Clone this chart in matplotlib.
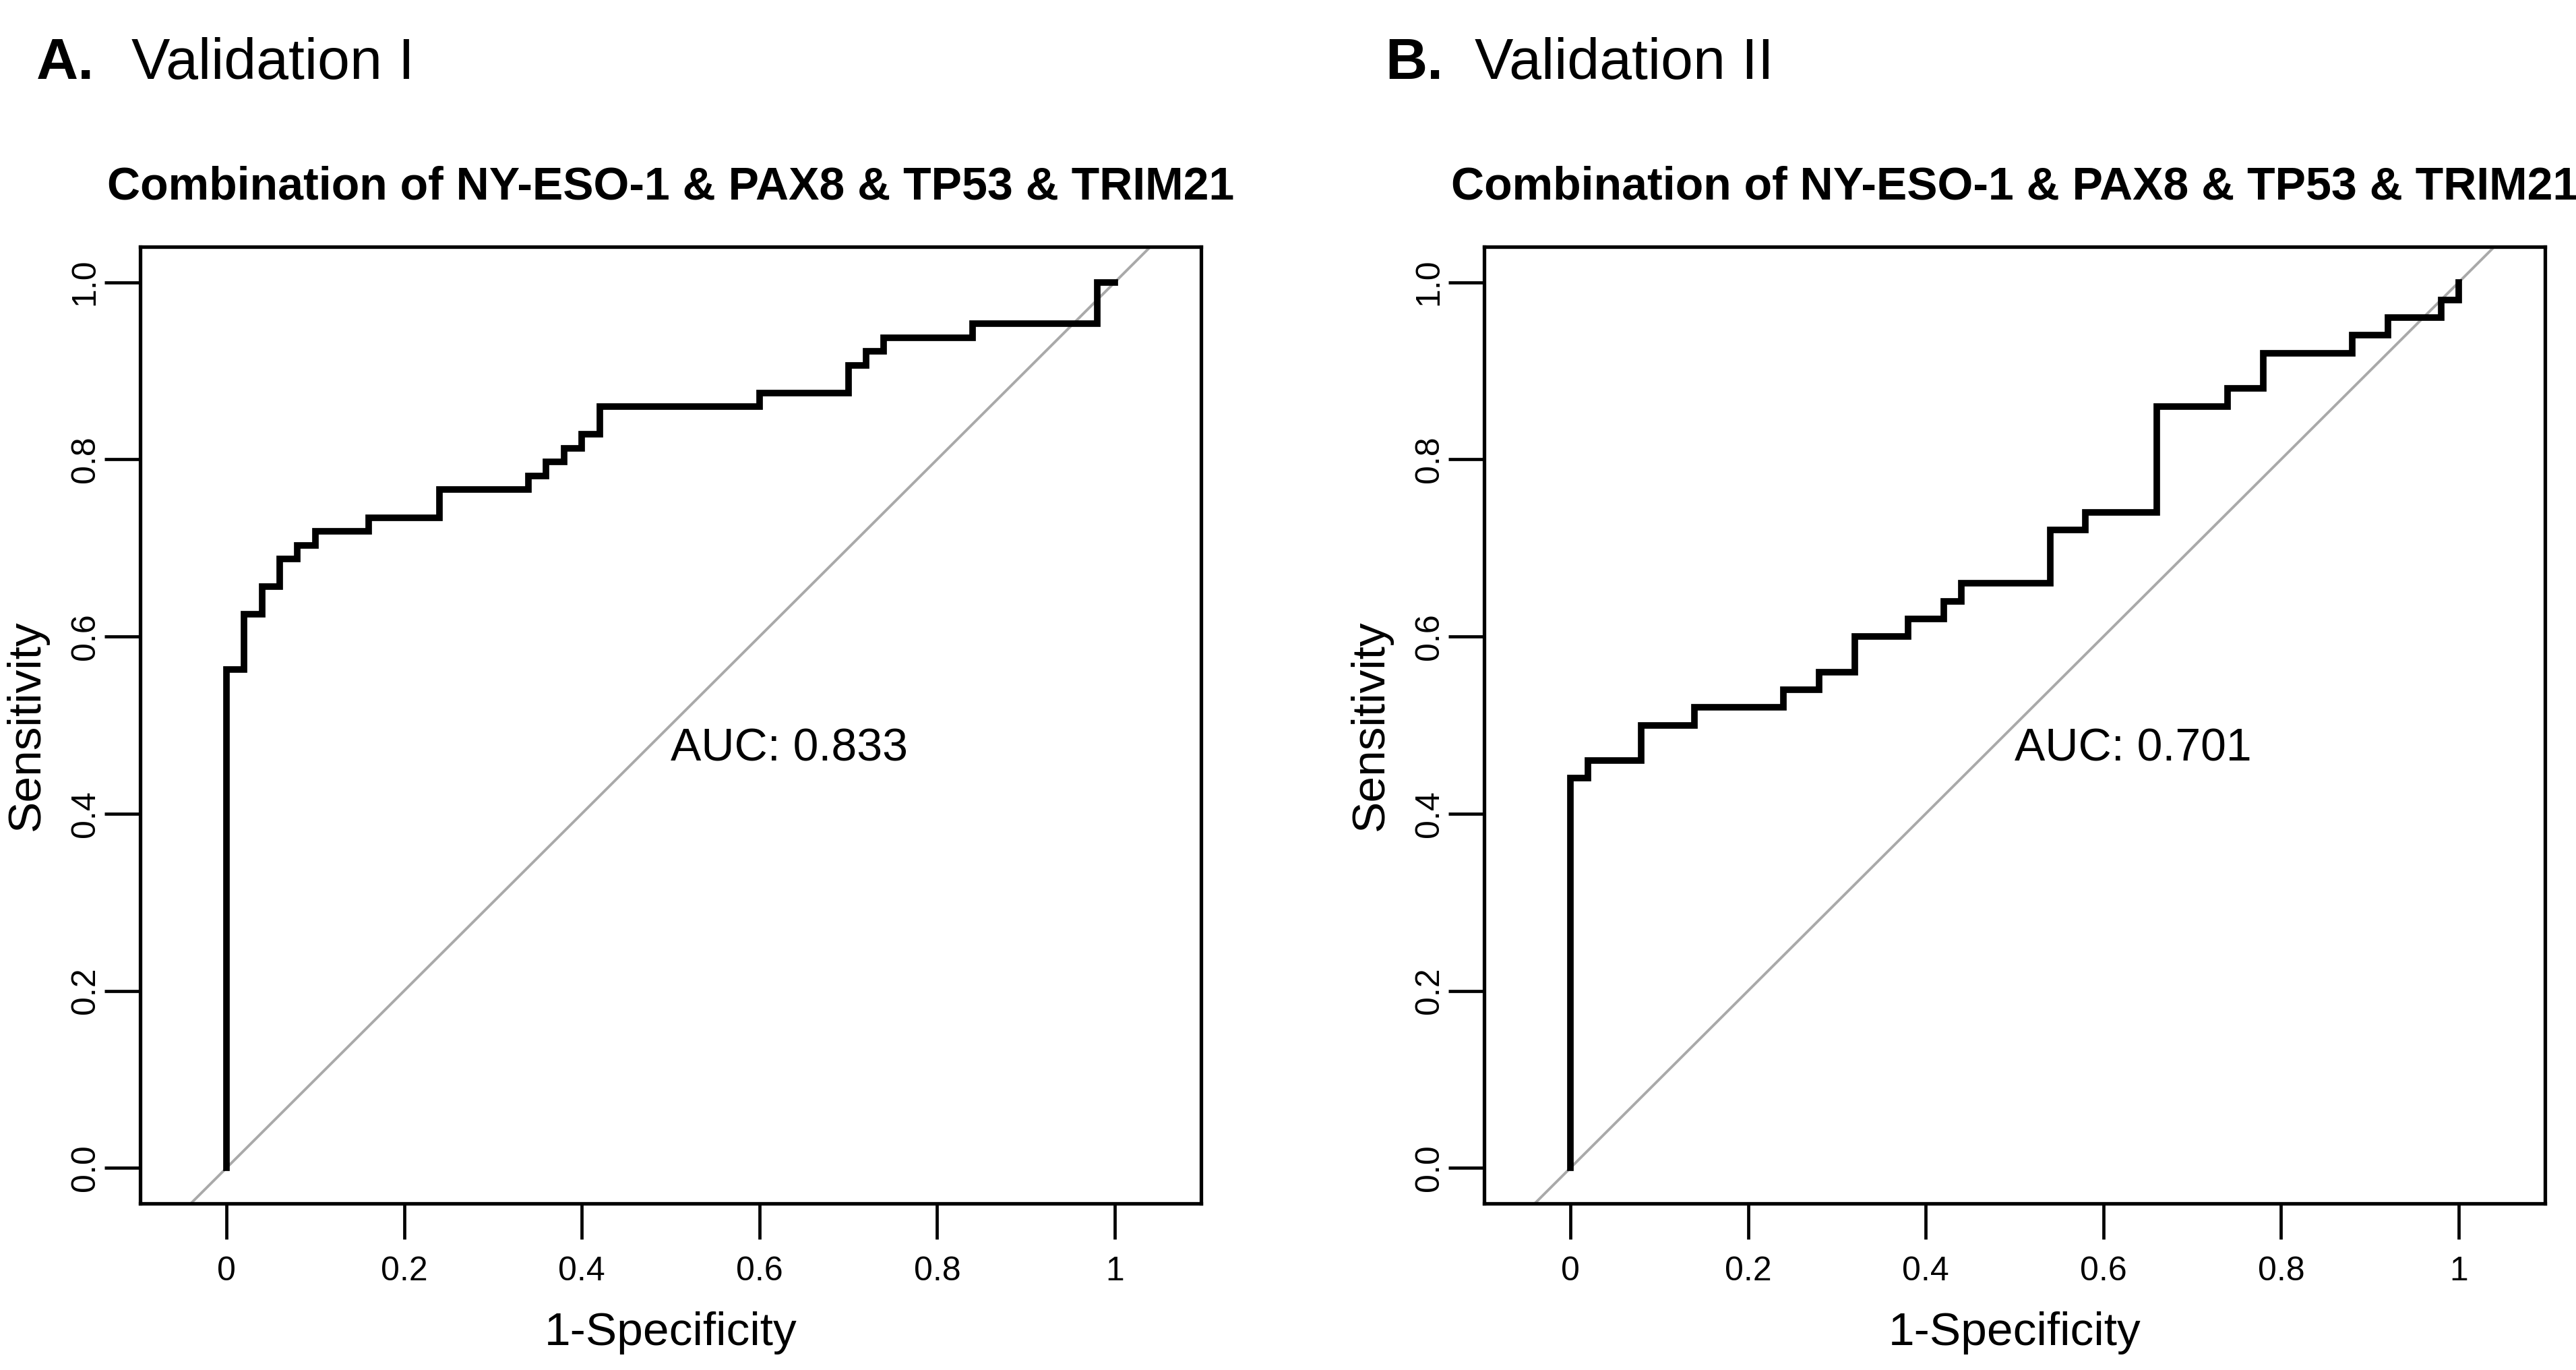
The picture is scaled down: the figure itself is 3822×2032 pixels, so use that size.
import matplotlib
matplotlib.use("Agg")
import matplotlib.pyplot as plt

plt.rcParams['font.family'] = ['Liberation Sans', 'DejaVu Sans']

# ---- data (1-specificity, sensitivity) corner points of the ROC step curves ----
fpr_A = [0, 0, 0.02, 0.04, 0.06, 0.08, 0.10, 0.16, 0.24, 0.34, 0.36, 0.38, 0.40,
         0.42, 0.60, 0.70, 0.72, 0.74, 0.84, 0.98, 1.0]
tpr_A = [0, 0.5625, 0.625, 0.65625, 0.6875, 0.703125, 0.71875, 0.734375, 0.765625,
         0.78125, 0.796875, 0.8125, 0.828125, 0.859375, 0.875, 0.90625, 0.921875,
         0.9375, 0.953125, 1.0, 1.0]
auc_A = "0.833"

fpr_B = [0, 0, 0.02, 0.08, 0.14, 0.24, 0.28, 0.32, 0.38, 0.42, 0.44, 0.54, 0.58,
         0.66, 0.74, 0.78, 0.88, 0.92, 0.98, 1.0]
tpr_B = [0, 0.44, 0.46, 0.50, 0.52, 0.54, 0.56, 0.60, 0.62, 0.64, 0.66, 0.72, 0.74,
         0.86, 0.88, 0.92, 0.94, 0.96, 0.98, 1.0]
auc_B = "0.701"

panel_letters = ["A.", "B."]
panel_names = ["Validation I", "Validation II"]
title = "Combination of NY-ESO-1 & PAX8 & TP53 & TRIM21"
xticks = [0, 0.2, 0.4, 0.6, 0.8, 1.0]
xticklabels = ["0", "0.2", "0.4", "0.6", "0.8", "1"]
yticks = [0, 0.2, 0.4, 0.6, 0.8, 1.0]
yticklabels = ["0.0", "0.2", "0.4", "0.6", "0.8", "1.0"]

W, H = 3822, 2032
fig = plt.figure(figsize=(W / 100, H / 100), dpi=100)

def fx(px):
    return px / W

def fy(py):
    return (H - py) / H

ax_left_px = [208, 2202]
ax_w_px = 1574
ax_top_px, ax_bot_px = 366, 1785
letter_x_px = [54, 2055]
name_x_px = [195, 2188]

for i, (fpr, tpr, auc) in enumerate([(fpr_A, tpr_A, auc_A), (fpr_B, tpr_B, auc_B)]):
    ax = fig.add_axes([fx(ax_left_px[i]), fy(ax_bot_px), ax_w_px / W,
                       (ax_bot_px - ax_top_px) / H])
    ax.set_xlim(0.5 - 0.597, 0.5 + 0.597)
    ax.set_ylim(-0.04, 1.04)
    ax.axline((0, 0), (1, 1), color="#A9A9A9", lw=2.8, zorder=1)
    ax.plot(fpr, tpr, drawstyle="steps-post", color="black", lw=7.0,
            solid_joinstyle="miter", zorder=2)
    ax.text(0.5, 0.46, "AUC: " + auc, fontsize=49, ha="left", va="baseline")

    for sp in ax.spines.values():
        sp.set_linewidth(3.8)
        sp.set_color("black")
    ax.set_xticks(xticks)
    ax.set_xticklabels(xticklabels)
    ax.set_yticks(yticks)
    ax.set_yticklabels(yticklabels, rotation=90, va="center")
    ax.tick_params(axis="x", direction="out", length=38, width=3.4, labelsize=36, pad=18)
    ax.tick_params(axis="y", direction="out", length=38, width=3.4, labelsize=36, pad=4)

    ax.set_xlabel("1-Specificity", fontsize=50)
    ax.xaxis.set_label_coords(0.5, (ax_bot_px - 1995) / (ax_bot_px - ax_top_px))
    ax.xaxis.label.set_verticalalignment("baseline")
    ax.set_ylabel("Sensitivity", fontsize=50)
    ax.yaxis.set_label_coords((40 - ax_left_px[0]) / ax_w_px, 0.5)
    ax.yaxis.label.set_verticalalignment("center")

    cx = fx(ax_left_px[i] + ax_w_px / 2)
    fig.text(cx, fy(295), title, fontsize=49, fontweight="bold", ha="center", va="baseline")
    fig.text(fx(letter_x_px[i]), fy(117), panel_letters[i], fontsize=62,
             fontweight="bold", ha="left", va="baseline")
    fig.text(fx(name_x_px[i]), fy(117), panel_names[i], fontsize=62,
             ha="left", va="baseline")

fig.savefig("out.png", dpi=100)
